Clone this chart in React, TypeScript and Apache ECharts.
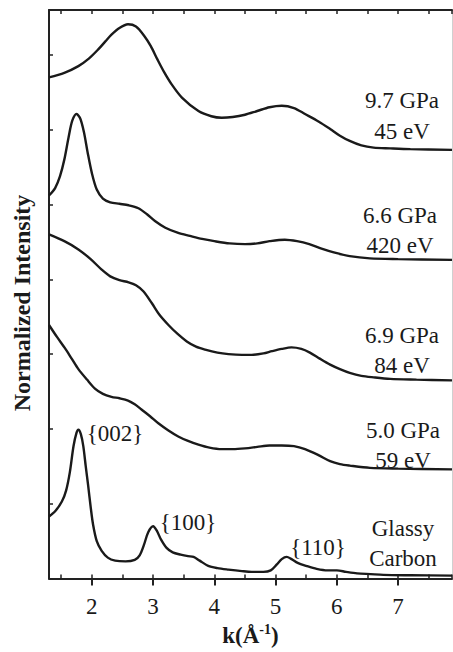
import React, { useEffect, useRef } from 'react';
import * as echarts from 'echarts';

// axis extents (k in 1/Å, normalized intensity with offsets)
const K_MIN = 1.3;
const K_MAX = 7.88;
const I_MIN = 0;
const I_MAX = 7.6;

// 9.7 GPa, 45 eV
const k97 = [1.30, 1.55, 1.78, 1.95, 2.10, 2.22, 2.32, 2.45, 2.59, 2.72, 2.85, 2.96, 3.07, 3.18, 3.30, 3.47, 3.74, 3.95, 4.12, 4.30, 4.50, 4.70, 4.90, 5.10, 5.30, 5.48, 5.70, 5.89, 6.05, 6.21, 6.40, 6.60, 6.87, 7.20, 7.88];
const i97 = [6.70, 6.76, 6.85, 6.95, 7.07, 7.18, 7.27, 7.36, 7.41, 7.38, 7.26, 7.12, 6.94, 6.77, 6.61, 6.43, 6.25, 6.18, 6.16, 6.17, 6.20, 6.25, 6.30, 6.32, 6.29, 6.21, 6.11, 6.01, 5.92, 5.85, 5.79, 5.76, 5.75, 5.74, 5.73];

// 6.6 GPa, 420 eV
const k66 = [1.30, 1.40, 1.48, 1.55, 1.62, 1.68, 1.75, 1.81, 1.87, 1.93, 2.00, 2.08, 2.18, 2.30, 2.45, 2.60, 2.76, 2.90, 3.03, 3.20, 3.41, 3.60, 3.80, 4.00, 4.25, 4.50, 4.70, 4.90, 5.15, 5.35, 5.55, 5.75, 5.95, 6.21, 6.54, 7.00, 7.88];
const i66 = [5.12, 5.22, 5.38, 5.60, 5.90, 6.12, 6.21, 6.15, 5.97, 5.70, 5.42, 5.20, 5.08, 5.03, 5.01, 4.99, 4.95, 4.87, 4.78, 4.69, 4.62, 4.58, 4.54, 4.51, 4.48, 4.47, 4.48, 4.51, 4.53, 4.51, 4.47, 4.41, 4.36, 4.31, 4.28, 4.27, 4.26];

// 6.9 GPa, 84 eV
const k69 = [1.30, 1.55, 1.78, 1.98, 2.16, 2.30, 2.45, 2.60, 2.72, 2.84, 2.98, 3.10, 3.25, 3.40, 3.55, 3.70, 3.85, 4.05, 4.23, 4.45, 4.61, 4.80, 4.94, 5.10, 5.26, 5.42, 5.56, 5.72, 5.89, 6.05, 6.21, 6.40, 6.60, 6.87, 7.30, 7.88];
const i69 = [4.60, 4.51, 4.40, 4.27, 4.13, 4.04, 3.99, 3.96, 3.92, 3.84, 3.68, 3.53, 3.39, 3.27, 3.17, 3.10, 3.06, 3.02, 3.00, 2.99, 2.99, 3.01, 3.04, 3.07, 3.09, 3.07, 3.02, 2.94, 2.86, 2.80, 2.75, 2.71, 2.69, 2.67, 2.66, 2.65];

// 5.0 GPa, 59 eV
const k50 = [1.30, 1.43, 1.56, 1.67, 1.78, 1.92, 2.05, 2.18, 2.32, 2.45, 2.59, 2.70, 2.81, 2.95, 3.08, 3.25, 3.41, 3.57, 3.74, 3.92, 4.12, 4.30, 4.50, 4.70, 4.90, 5.10, 5.30, 5.48, 5.70, 5.89, 6.05, 6.21, 6.54, 7.00, 7.88];
const i50 = [3.39, 3.23, 3.08, 2.94, 2.80, 2.66, 2.54, 2.47, 2.43, 2.41, 2.38, 2.33, 2.26, 2.17, 2.08, 1.98, 1.90, 1.84, 1.79, 1.75, 1.73, 1.73, 1.74, 1.76, 1.78, 1.78, 1.77, 1.73, 1.65, 1.57, 1.53, 1.51, 1.48, 1.47, 1.46];

// Glassy Carbon
const kGC = [1.30, 1.40, 1.51, 1.58, 1.64, 1.70, 1.75, 1.78, 1.82, 1.86, 1.90, 1.94, 1.98, 2.02, 2.08, 2.16, 2.26, 2.38, 2.55, 2.70, 2.78, 2.85, 2.92, 3.00, 3.06, 3.13, 3.22, 3.32, 3.45, 3.57, 3.66, 3.76, 3.90, 4.05, 4.23, 4.45, 4.61, 4.80, 4.92, 5.02, 5.10, 5.18, 5.26, 5.36, 5.50, 5.67, 5.85, 6.00, 6.15, 6.33, 6.55, 6.76, 7.20, 7.88];
const iGC = [0.83, 0.90, 1.03, 1.18, 1.42, 1.77, 1.95, 1.99, 1.93, 1.77, 1.50, 1.24, 0.96, 0.72, 0.50, 0.37, 0.28, 0.24, 0.23, 0.25, 0.31, 0.45, 0.62, 0.70, 0.64, 0.52, 0.41, 0.35, 0.32, 0.30, 0.29, 0.24, 0.17, 0.14, 0.12, 0.10, 0.09, 0.09, 0.11, 0.19, 0.26, 0.29, 0.26, 0.21, 0.17, 0.13, 0.11, 0.11, 0.09, 0.07, 0.06, 0.05, 0.045, 0.04];

const seriesNames = ['9.7 GPa 45 eV', '6.6 GPa 420 eV', '6.9 GPa 84 eV', '5.0 GPa 59 eV', 'Glassy Carbon'];
const seriesK = [k97, k66, k69, k50, kGC];
const seriesI = [i97, i66, i69, i50, iGC];

const curveLabels = ['9.7 GPa', '45 eV', '6.6 GPa', '420 eV', '6.9 GPa', '84 eV', '5.0 GPa', '59 eV', 'Glassy', 'Carbon'];
const peakLabels = ['{002}', '{100}', '{110}'];
const yTitle = 'Normalized Intensity';

const FONT = 'Liberation Serif';
const INK = '#1a1a1a';

export default function App() {
  const ref = useRef<HTMLDivElement>(null);

  useEffect(() => {
    if (!ref.current) return;
    const chart = echarts.init(ref.current, null, { renderer: 'svg' });

    const labelPos: [number, number][] = [
      [402, 100], [402, 131],
      [400, 215], [400, 245],
      [402, 335], [402, 365],
      [403, 430], [403, 460],
      [403, 528], [403, 558],
    ];
    const peakPos: [number, number][] = [[115, 433], [188, 522], [318, 547]];

    const textEl = (text: string, x: number, y: number, size = 23, weight = 'normal', rotation = 0) => ({
      type: 'text',
      x,
      y,
      rotation,
      silent: true,
      style: {
        text,
        fill: INK,
        fontFamily: FONT,
        fontSize: size,
        fontWeight: weight,
        align: 'center',
        verticalAlign: 'middle',
      },
    });

    const graphics: any[] = [];
    curveLabels.forEach((t, i) => graphics.push(textEl(t, labelPos[i][0], labelPos[i][1])));
    peakLabels.forEach((t, i) => graphics.push(textEl(t, peakPos[i][0], peakPos[i][1])));
    graphics.push(textEl(yTitle, 22, 303, 24, 'bold', Math.PI / 2));

    const axisLineStyle = { color: '#222', width: 2 };

    chart.setOption({
      animation: false,
      backgroundColor: '#fff',
      textStyle: { fontFamily: FONT },
      grid: { left: 49, top: 10, right: 1, bottom: 64, containLabel: false },
      xAxis: [
        {
          type: 'value',
          min: K_MIN,
          max: K_MAX,
          splitNumber: 6,
          position: 'bottom',
          name: '{a|k(Å}{s|-1}{a|)}',
          nameLocation: 'middle',
          nameGap: 43,
          nameTextStyle: {
            rich: {
              a: { fontFamily: FONT, fontSize: 23, fontWeight: 'bold', color: INK, lineHeight: 26 },
              s: { fontFamily: FONT, fontSize: 14, fontWeight: 'bold', color: INK, verticalAlign: 'top', lineHeight: 26, padding: [0, 0, 8, 0] },
            },
          },
          axisLine: { show: true, onZero: false, lineStyle: axisLineStyle },
          axisTick: { show: true, inside: false, length: 7, lineStyle: axisLineStyle },
          axisLabel: { show: true, showMinLabel: false, showMaxLabel: false, margin: 16, fontFamily: FONT, fontSize: 23, color: INK },
          splitLine: { show: false },
        },
        {
          type: 'value',
          min: K_MIN,
          max: K_MAX,
          splitNumber: 13,
          position: 'bottom',
          axisLine: { show: false },
          axisTick: { show: true, inside: true, length: 4, lineStyle: { color: '#222', width: 1.5 } },
          axisLabel: { show: false },
          splitLine: { show: false },
        },
        {
          type: 'value',
          min: K_MIN,
          max: K_MAX,
          splitNumber: 13,
          position: 'top',
          axisLine: { show: true, onZero: false, lineStyle: axisLineStyle },
          axisTick: { show: true, inside: true, length: 4, lineStyle: { color: '#222', width: 1.5 } },
          axisLabel: { show: false },
          splitLine: { show: false },
        },
      ],
      yAxis: [
        {
          type: 'value',
          min: I_MIN,
          max: I_MAX,
          interval: 1,
          position: 'left',
          axisLine: { show: true, onZero: false, lineStyle: axisLineStyle },
          axisTick: { show: true, inside: true, length: 4, lineStyle: { color: '#222', width: 1.5 } },
          axisLabel: { show: false },
          splitLine: { show: false },
        },
        {
          type: 'value',
          min: I_MIN,
          max: I_MAX,
          position: 'right',
          axisLine: { show: true, onZero: false, lineStyle: { color: '#d0d0d0', width: 1 } },
          axisTick: { show: false },
          axisLabel: { show: false },
          splitLine: { show: false },
        },
      ],
      series: seriesNames.map((name, s) => ({
        name,
        type: 'line',
        xAxisIndex: 0,
        yAxisIndex: 0,
        showSymbol: false,
        symbol: 'none',
        smooth: 0.3,
        lineStyle: { color: INK, width: 2.4 },
        data: seriesK[s].map((k, j) => [k, seriesI[s][j]]),
      })),
      graphic: graphics,
    });

    return () => chart.dispose();
  }, []);

  return (
    <div
      ref={ref}
      style={{ position: 'fixed', left: 0, top: 0, width: 453, height: 652, background: '#fff' }}
    />
  );
}
